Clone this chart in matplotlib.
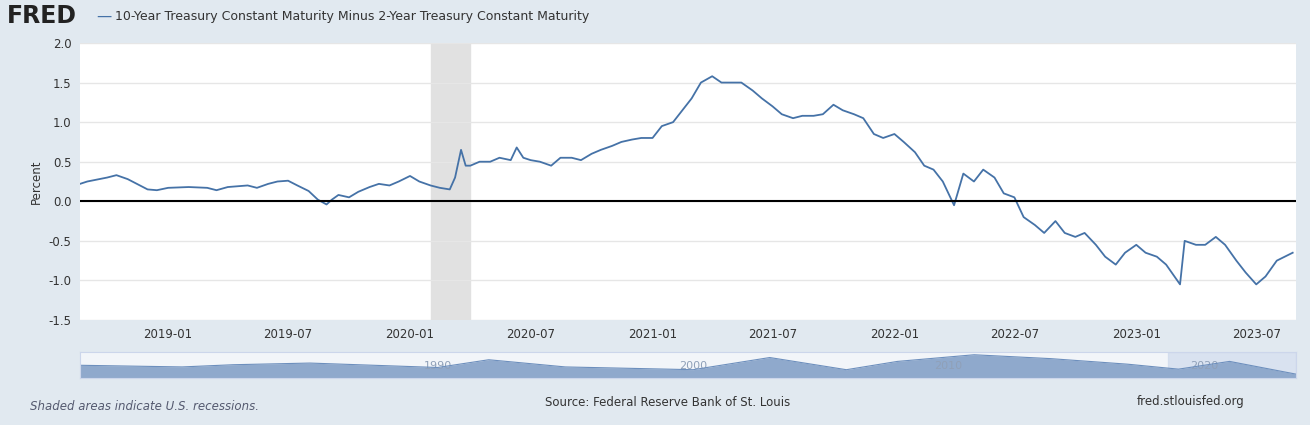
import matplotlib.pyplot as plt
import matplotlib.dates as mdates
import numpy as np
import pandas as pd

dates = ["2018-08-21", "2018-09-01", "2018-10-01", "2018-10-15", "2018-11-01", "2018-12-01", "2018-12-15",
         "2019-01-01", "2019-02-01", "2019-03-01", "2019-03-15", "2019-04-01", "2019-05-01", "2019-05-15",
         "2019-06-01", "2019-06-15", "2019-07-01", "2019-07-15", "2019-08-01", "2019-08-15", "2019-08-28",
         "2019-09-05", "2019-09-15", "2019-10-01", "2019-10-15", "2019-11-01", "2019-11-15", "2019-12-01",
         "2019-12-15", "2020-01-01", "2020-01-15", "2020-02-01", "2020-02-15", "2020-03-01", "2020-03-09",
         "2020-03-18", "2020-03-25", "2020-04-01", "2020-04-15", "2020-05-01", "2020-05-15", "2020-06-01",
         "2020-06-10", "2020-06-20", "2020-07-01", "2020-07-15", "2020-08-01", "2020-08-15", "2020-09-01",
         "2020-09-15", "2020-10-01", "2020-10-15", "2020-11-01", "2020-11-15", "2020-12-01", "2020-12-15",
         "2021-01-01", "2021-01-15", "2021-02-01", "2021-02-15", "2021-03-01", "2021-03-15", "2021-04-01",
         "2021-04-15", "2021-05-01", "2021-05-15", "2021-06-01", "2021-06-15", "2021-07-01", "2021-07-15",
         "2021-08-01", "2021-08-15", "2021-09-01", "2021-09-15", "2021-10-01", "2021-10-15", "2021-11-01",
         "2021-11-15", "2021-12-01", "2021-12-15", "2022-01-01", "2022-01-15", "2022-02-01", "2022-02-15",
         "2022-03-01", "2022-03-15", "2022-04-01", "2022-04-15", "2022-05-01", "2022-05-15", "2022-06-01",
         "2022-06-15", "2022-07-01", "2022-07-15", "2022-08-01", "2022-08-15", "2022-09-01", "2022-09-15",
         "2022-10-01", "2022-10-15", "2022-11-01", "2022-11-15", "2022-12-01", "2022-12-15", "2023-01-01",
         "2023-01-15", "2023-02-01", "2023-02-15", "2023-03-08", "2023-03-15", "2023-04-01", "2023-04-15",
         "2023-05-01", "2023-05-15", "2023-06-01", "2023-06-15", "2023-07-01", "2023-07-15", "2023-08-01",
         "2023-08-25"]
spread = [0.22, 0.25, 0.30, 0.33, 0.28, 0.15, 0.14,
          0.17, 0.18, 0.17, 0.14, 0.18, 0.20, 0.17,
          0.22, 0.25, 0.26, 0.20, 0.13, 0.02, -0.04,
          0.02, 0.08, 0.05, 0.12, 0.18, 0.22, 0.20,
          0.25, 0.32, 0.25, 0.20, 0.17, 0.15, 0.30,
          0.65, 0.45, 0.45, 0.50, 0.50, 0.55, 0.52,
          0.68, 0.55, 0.52, 0.50, 0.45, 0.55, 0.55,
          0.52, 0.60, 0.65, 0.70, 0.75, 0.78, 0.80,
          0.80, 0.95, 1.00, 1.15, 1.30, 1.50, 1.58,
          1.50, 1.50, 1.50, 1.40, 1.30, 1.20, 1.10,
          1.05, 1.08, 1.08, 1.10, 1.22, 1.15, 1.10,
          1.05, 0.85, 0.80, 0.85, 0.75, 0.62, 0.45,
          0.40, 0.25, -0.05, 0.35, 0.25, 0.40, 0.30,
          0.10, 0.05, -0.20, -0.30, -0.40, -0.25, -0.40,
          -0.45, -0.40, -0.55, -0.70, -0.80, -0.65, -0.55,
          -0.65, -0.70, -0.80, -1.05, -0.50, -0.55, -0.55,
          -0.45, -0.55, -0.75, -0.90, -1.05, -0.95, -0.75,
          -0.65]
recession = ("2020-02-01", "2020-03-31")
nav_years = [1976, 1980, 1982, 1985, 1990, 1992, 1995, 2000, 2003, 2006, 2008, 2011, 2014, 2017, 2019, 2021, 2023.6]
nav_vals = [0.8, 0.5, 0.9, 1.2, 0.4, 1.8, 0.5, 0.0, 2.2, 0.0, 1.5, 2.7, 2.0, 1.0, 0.1, 1.5, -0.8]

BG = "#e1e9f0"
LINE = "#4572a7"
x = pd.to_datetime(dates)

fig = plt.figure(figsize=(13.1, 4.25), dpi=100, facecolor=BG)
ax = fig.add_axes([80 / 1310, 1 - 320 / 425, 1216 / 1310, 277 / 425])
ax.plot(x, spread, color=LINE, lw=1.3)
ax.axvspan(pd.Timestamp(recession[0]), pd.Timestamp(recession[1]), color="#e1e1e1", zorder=0)
ax.axhline(0, color="black", lw=1.5)
ax.set_xlim(pd.Timestamp("2018-08-21"), pd.Timestamp("2023-08-30"))
ax.set_ylim(-1.5, 2.0)
ax.set_yticks(np.arange(-1.5, 2.01, 0.5))
ax.yaxis.set_major_formatter(plt.FuncFormatter(lambda v, p: f"{v:.1f}"))
ax.xaxis.set_major_locator(mdates.MonthLocator(bymonth=[1, 7]))
ax.xaxis.set_major_formatter(mdates.DateFormatter("%Y-%m"))
ax.grid(axis="y", color="#e6e6e6", lw=1)
ax.set_axisbelow(True)
for s in ax.spines.values():
    s.set_visible(False)
ax.tick_params(length=0, labelsize=8.5, colors="#333333", pad=6)
ax.set_ylabel("Percent", fontsize=8.5, color="#333333")

nav = fig.add_axes([80 / 1310, 1 - 378 / 425, 1216 / 1310, 26 / 425])
nav.fill_between(nav_years, nav_vals, -1.5, color="#8fa9cc", lw=0)
nav.plot(nav_years, nav_vals, color="#6d8fbd", lw=0.8)
nav.axvspan(2018.6, 2023.6, color="#c9d6ea", alpha=0.6, zorder=0)
nav.set_xlim(1976, 2023.6)
nav.set_ylim(-1.5, 3.2)
nav.set_xticks([1990, 2000, 2010, 2020])
nav.set_xticklabels(["1990", "2000", "2010", "2020"])
nav.tick_params(direction="in", pad=-12, labelsize=8, colors="#8fa0b8", length=0)
nav.set_yticks([])
nav.set_facecolor("#f2f5f9")
for s in nav.spines.values():
    s.set_color("#ccd6eb")

fig.text(0.005, 0.962, "FRED", fontsize=17, fontweight="bold", color="#222222", va="center")
fig.text(96 / 1310, 0.962, "—", color=LINE, fontsize=11, va="center")
fig.text(115 / 1310, 0.962, "10-Year Treasury Constant Maturity Minus 2-Year Treasury Constant Maturity",
         fontsize=9, color="#333333", va="center")
fig.text(30 / 1310, 1 - 406 / 425, "Shaded areas indicate U.S. recessions.", fontsize=8.5,
         style="italic", color="#555a70", va="center")
fig.text(0.51, 1 - 402 / 425, "Source: Federal Reserve Bank of St. Louis", fontsize=8.5,
         color="#333333", va="center", ha="center")
fig.text(1245 / 1310, 1 - 402 / 425, "fred.stlouisfed.org", fontsize=8.5, color="#333333",
         va="center", ha="right")
fig.savefig("out.png", facecolor=BG)
